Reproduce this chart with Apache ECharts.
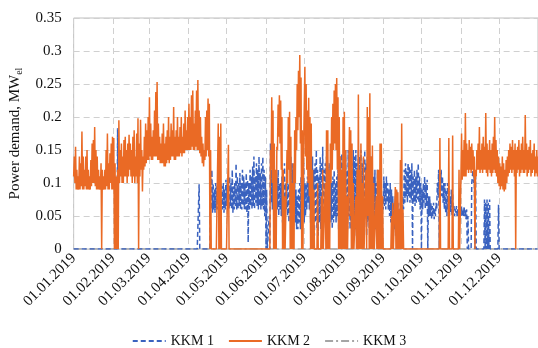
<!DOCTYPE html>
<html>
<head>
<meta charset="utf-8">
<script src="https://cdn.jsdelivr.net/npm/echarts@6/dist/echarts.min.js"></script>
<style>html,body{margin:0;padding:0;background:#fff}#c{width:538px;height:348px}</style>
</head>
<body>
<div id="c"></div>
<script>
// Daily low / high values (MW_el), one entry per day of 2019
const kkm2Low = [
// Jan
0.11,0.10,0.09,0.09,0.09,0.09,0.095,0.09,0.09,0.095,0.09,0.09,0.09,0.09,0.095,0.10,0.10,0.095,0.09,0.09,0.09,0.09,0,0.09,0.09,0.09,0.095,0.09,0.09,0.10,0.09,
// Feb
0.09,0,0,0,0,0.10,0.11,0.10,0.10,0.11,0.11,0.10,0.11,0.12,0.11,0.10,0.11,0.10,0.11,0.10,0,0.11,0.12,0.087,0.12,0.125,0.13,0.135,
// Mar
0.135,0.14,0.135,0.135,0.14,0.14,0.14,0.135,0.135,0.13,0.13,0.13,0.125,0.125,0.13,0.135,0.13,0.135,0.14,0.14,0.135,0.135,0.14,0.14,0.14,0.145,0.14,0.145,0.145,0.15,0.15,
// Apr
0.15,0.15,0.15,0.155,0.15,0.15,0.155,0.15,0.15,0.145,0.14,0.13,0.125,0.135,0.14,0.15,0.14,0,0,0,0,0,0,0,0,0,0,0,0,0,
// May
0,0,0,0,0,0,0,0,0,0,0,0,0,0,0,0,0,0,0,0,0,0,0,0,0,0,0,0,0,0,0,
// Jun
0,0,0,0,0.12,0.1,0,0,0,0.15,0.17,0.16,0.12,0,0,0,0,0.1,0.12,0,0,0,0,0.1,0.15,0.18,0.2,0.16,0,0,
// Jul
0.15,0.14,0.12,0.1,0.08,0,0,0,0,0,0,0,0,0,0,0,0,0,0,0,0,0.1,0.12,0.15,0.16,0.15,0.12,0,0,0,0,
// Aug
0,0,0,0,0,0.05,0,0,0,0,0,0,0,0,0,0,0,0,0,0.05,0,0,0,0,0,0,0,0,0,0,0,
// Sep
0,0,0,0,0,0,0,0,0,0,0,0,0,0,0,0,0,0,0,0,0,0,0,0,0,0,0,0,0,0,
// Oct
0,0,0,0,0,0,0,0,0,0,0,0,0,0,0,0,0,0,0,0,0,0,0,0,0,0,0,0,0,0,0,
// Nov
0.11,0.105,0.11,0.11,0.11,0.12,0.115,0.12,0.115,0.12,0.11,0,0.11,0.12,0.12,0.115,0.12,0.115,0.12,0.12,0.115,0.11,0.12,0.115,0.11,0.115,0.12,0.115,0.11,0.1,
// Dec
0.095,0.09,0.095,0.09,0.087,0.09,0.1,0.11,0.115,0.12,0.115,0.12,0.11,0,0.115,0.12,0.11,0.115,0.12,0.115,0.115,0.12,0.11,0.115,0.12,0.11,0.115,0.12,0.11,0.115,0.11
];
const kkm2High = [
// Jan
0.14,0.155,0.12,0.11,0.14,0.13,0.178,0.14,0.12,0.14,0.15,0.12,0.11,0.135,0.16,0.165,0.185,0.15,0.14,0.12,0.11,0.13,0.12,0.11,0.12,0.15,0.175,0.13,0.145,0.16,0.17,
// Feb
0.168,0.13,0.11,0.12,0.195,0.15,0.16,0.14,0.165,0.17,0.15,0.16,0.173,0.16,0.15,0.17,0.18,0.14,0.175,0.198,0.16,0.196,0.15,0.14,0.17,0.19,0.18,0.2,
// Mar
0.23,0.19,0.17,0.18,0.21,0.238,0.253,0.19,0.17,0.16,0.175,0.19,0.16,0.17,0.18,0.2,0.17,0.19,0.18,0.215,0.17,0.18,0.2,0.17,0.185,0.2,0.17,0.19,0.21,0.18,0.2,
// Apr
0.22,0.2,0.233,0.24,0.19,0.21,0.24,0.256,0.21,0.2,0.17,0.16,0.15,0.2,0.21,0.228,0.22,0.15,0,0,0,0,0,0.19,0.17,0.19,0,0,0,0,
// May
0,0.158,0,0,0,0,0,0,0,0,0,0,0,0,0,0,0,0,0,0,0,0,0,0,0,0,0,0,0,0,0,
// Jun
0,0,0,0.15,0.23,0.21,0.16,0.12,0.155,0.219,0.233,0.225,0.2,0.12,0.08,0,0.15,0.2,0.208,0.17,0.1,0.13,0.18,0.2,0.25,0.27,0.294,0.26,0.18,0.15,
// Jul
0.276,0.25,0.21,0.229,0.2,0.19,0.12,0.09,0,0,0.1,0,0,0.08,0.12,0,0.1,0.18,0.18,0.12,0.16,0.2,0.22,0.24,0.25,0.259,0.23,0.2,0.14,0.12,0.2,
// Aug
0.208,0.15,0.08,0,0.185,0.18,0.16,0.1,0,0.08,0.12,0.234,0.12,0.16,0.1,0.14,0,0.12,0.215,0.2,0.236,0.14,0.157,0.1,0,0.08,0.12,0.12,0.16,0.16,0.08,
// Sep
0,0,0,0,0,0,0.05,0.07,0,0.094,0.09,0.086,0.06,0.135,0.19,0.06,0,0,0,0,0,0,0,0,0,0,0,0,0,0,
// Oct
0,0,0,0,0,0,0,0,0,0,0,0,0,0,0.168,0,0,0,0,0,0,0.168,0,0,0.172,0,0,0,0,0.12,0,
// Nov
0.175,0.15,0.165,0.206,0.16,0.15,0.165,0.155,0.16,0.15,0.14,0.12,0.15,0.16,0.185,0.15,0.16,0.17,0.155,0.206,0.16,0.15,0.165,0.15,0.16,0.17,0.2,0.165,0.15,0.14,
// Dec
0.13,0.125,0.14,0.13,0.12,0.135,0.14,0.15,0.16,0.155,0.165,0.15,0.16,0.15,0.155,0.165,0.15,0.16,0.17,0.15,0.203,0.16,0.15,0.155,0.165,0.145,0.15,0.16,0.14,0.15,0.14
];
const kkm1Low = [
// Jan
0,0,0,0,0,0,0,0,0,0,0,0,0,0,0,0,0,0,0,0,0,0,0,0,0,0,0,0,0,0,0,
// Feb
0,0,0,0,0,0,0,0,0,0,0,0,0,0,0,0,0,0,0,0,0,0,0,0,0,0,0,0,
// Mar
0,0,0,0,0,0,0,0,0,0,0,0,0,0,0,0,0,0,0,0,0,0,0,0,0,0,0,0,0,0,0,
// Apr
0,0,0,0,0,0,0,0,0,0,0,0,0,0,0,0,0,0,0.06,0.055,0.06,0.055,0.06,0.06,0.055,0.06,0.065,0.06,0.055,0.06,
// May
0.065,0.06,0.06,0.065,0.06,0.055,0.06,0.065,0.06,0.06,0.065,0.06,0.06,0.065,0.06,0.06,0.055,0.01,0.06,0.065,0.06,0.065,0.06,0.07,0.065,0.06,0.065,0.06,0.065,0.06,0.05,
// Jun
0,0,0,0,0.07,0.06,0.07,0.06,0.05,0.06,0.05,0.06,0.05,0.04,0.05,0.04,0.06,0.05,0.04,0.06,0.08,0.07,0.05,0.04,0.03,0.03,0.04,0.03,0.05,0.06,
// Jul
0.04,0.05,0.06,0.07,0.06,0.04,0.05,0.03,0.02,0.04,0.03,0.02,0.04,0.03,0.05,0.03,0.04,0.02,0.04,0.03,0.05,0.04,0.03,0.04,0.05,0.04,0.05,0.03,0.04,0.05,0.03,
// Aug
0.05,0.02,0.04,0.03,0.05,0.03,0.04,0.02,0.04,0.03,0.02,0.04,0.03,0.05,0.02,0.04,0.03,0.05,0.02,0.04,0.03,0.05,0.03,0.02,0.04,0.03,0.02,0.04,0.03,0.05,0.04,
// Sep
0.06,0.065,0.06,0.07,0.06,0.05,0.04,0.03,0.02,0.03,0.02,0.03,0.02,0.03,0.02,0.03,0.06,0.07,0.08,0.07,0.08,0.07,0.075,0,0.07,0.065,0.07,0.075,0.07,0.06,
// Oct
0,0.06,0.07,0.06,0.065,0,0.05,0.05,0.045,0.05,0.045,0.05,0.06,0.08,0,0.09,0.08,0.07,0.06,0.055,0.05,0.06,0.05,0.055,0.05,0.055,0.05,0.055,0.05,0.05,0.05,
// Nov
0.05,0.05,0.05,0.05,0.045,0,0,0,0,0.1,0.1,0,0,0,0,0,0,0,0,0,0,0,0,0,0,0,0,0,0,0,
// Dec
0,0,0,0,0,0,0,0,0,0,0,0,0,0,0,0,0,0,0,0,0,0,0,0,0,0,0,0,0,0,0
];
const kkm1High = [
// Jan
0,0,0,0,0,0,0,0,0,0,0,0,0,0,0,0,0,0,0,0,0,0,0,0,0,0,0,0,0,0,0,
// Feb
0,0,0,0.183,0,0,0,0,0,0,0,0,0,0,0,0,0,0,0,0,0,0,0,0,0,0,0,0,
// Mar
0,0,0,0,0,0,0,0,0,0,0,0,0,0,0,0,0,0,0,0,0,0,0,0,0,0,0,0,0,0,0,
// Apr
0,0,0,0,0,0,0,0,0.098,0,0,0,0,0,0,0,0,0.12,0.12,0.1,0.09,0.1,0.095,0.1,0.09,0.1,0.095,0.1,0.09,0.105,
// May
0.1,0.09,0.11,0.1,0.12,0.095,0.1,0.13,0.11,0.1,0.115,0.1,0.12,0.11,0.1,0.115,0.105,0.1,0.12,0.11,0.125,0.14,0.11,0.13,0.12,0.14,0.115,0.13,0.14,0.12,0.11,
// Jun
0.09,0,0.05,0.16,0.12,0.11,0.12,0.1,0.11,0.12,0.1,0.1,0.11,0.12,0.13,0.1,0.12,0.1,0.09,0.14,0.13,0.12,0.1,0.09,0.08,0.09,0.1,0.11,0.12,0.13,
// Jul
0.1,0.1,0.11,0.15,0.12,0.13,0.14,0.12,0.13,0.15,0.12,0.11,0.14,0.13,0.155,0.12,0.13,0.14,0.11,0.13,0.12,0.1,0.11,0.12,0.1,0.11,0.12,0.13,0.14,0.145,0.13,
// Aug
0.14,0.15,0.12,0.15,0.14,0.15,0.13,0.15,0.14,0.15,0.13,0.15,0.14,0.15,0.13,0.14,0.15,0.13,0.14,0.15,0.12,0.14,0.12,0.11,0.12,0.1,0.12,0.11,0.1,0.09,0.08,
// Sep
0.11,0.1,0.11,0.1,0.09,0.1,0.09,0.08,0.07,0.08,0.09,0.07,0.06,0.07,0.05,0.08,0.12,0.13,0.12,0.13,0.125,0.12,0.13,0.11,0.12,0.11,0.12,0.13,0.11,0.1,
// Oct
0.09,0.1,0.11,0.1,0.105,0.08,0.08,0.07,0.065,0.07,0.06,0.07,0.1,0.12,0.115,0.12,0.11,0.1,0.1,0.09,0.1,0.095,0.08,0.09,0.085,0.065,0.06,0.065,0.06,0.065,0.06,
// Nov
0.065,0.06,0.065,0.06,0.06,0.05,0,0,0.1,0.12,0.115,0.11,0,0,0,0,0,0,0.075,0.07,0.075,0.07,0.075,0,0,0,0,0,0,0.067,
// Dec
0,0,0,0,0,0,0,0,0,0,0,0,0,0,0,0,0,0,0,0,0,0,0,0,0,0,0,0,0,0,0
];
// KKM 3: zero at start and end of the year
const kkm3Values = [0, 0];
const yTicks = [0, 0.05, 0.1, 0.15, 0.2, 0.25, 0.3, 0.35];

function pad(n){ return n < 10 ? '0' + n : '' + n; }
const start = Date.UTC(2019, 0, 1);
const cats = [];
for (let d = 0; d < kkm2Low.length; d++) {
  const dt = new Date(start + d * 86400000);
  const s = pad(dt.getUTCDate()) + '.' + pad(dt.getUTCMonth() + 1) + '.' + dt.getUTCFullYear();
  cats.push(s + ' 00:00', s + ' 12:00');
}
function zig(lo, hi){ const out = []; for (let i = 0; i < lo.length; i++) { out.push(lo[i], hi[i]); } return out; }
const kkm1 = zig(kkm1Low, kkm1High);
const kkm2 = zig(kkm2Low, kkm2High);
const kkm3 = [[0, kkm3Values[0]], [cats.length - 1, kkm3Values[1]]];

const isMonthStart = (idx) => { const v = cats[idx]; return v.slice(0, 3) === '01.' && v.slice(11) === '00:00'; };
const font = "'Liberation Serif','Times New Roman',serif";

const chart = echarts.init(document.getElementById('c'), null, {renderer: 'canvas'});
chart.setOption({
  animation: false,
  grid: {left: 66, right: -1, top: 18, bottom: 99, show: true, borderColor: '#BFBFBF', borderWidth: 1},
  xAxis: {
    type: 'category', data: cats, boundaryGap: false,
    axisLine: {show: false}, axisTick: {show: false},
    axisLabel: {interval: (i) => isMonthStart(i), rotate: 45, formatter: (v) => v.slice(0, 10),
      fontFamily: font, fontSize: 15, color: '#111', margin: 7},
    splitLine: {show: true, interval: (i) => isMonthStart(i), lineStyle: {color: '#D0D0D0', type: [6, 4], width: 1}}
  },
  yAxis: {
    type: 'value', min: 0, max: 0.35, interval: 0.05,
    axisLine: {show: false}, axisTick: {show: false},
    axisLabel: {fontFamily: font, fontSize: 15, color: '#111', margin: 12,
      formatter: (v) => { const t = yTicks.find(x => Math.abs(x - v) < 1e-9); return String(t !== undefined ? t : v); }},
    splitLine: {lineStyle: {color: '#D0D0D0', type: [6, 4], width: 1}},
    name: '{a|Power demand, MW}{b|el}', nameLocation: 'middle', nameGap: 41, nameRotate: 90,
    nameTextStyle: {rich: {
      a: {fontFamily: font, fontSize: 15, color: '#111'},
      b: {fontFamily: font, fontSize: 10, color: '#111', padding: [8, 0, 0, 0]}
    }}
  },
  legend: {
    left: 'center', top: 334, padding: 0, itemWidth: 33, itemHeight: 14, itemGap: 14,
    itemStyle: {opacity: 0},
    textStyle: {fontFamily: font, fontSize: 14, color: '#111'},
    data: ['KKM 1', 'KKM 2', 'KKM 3']
  },
  series: [
    {name: 'KKM 3', type: 'line', data: kkm3, symbol: 'none', z: 1,
      lineStyle: {color: '#A5A5A5', width: 1.5, type: [8, 3, 2, 3]}, itemStyle: {color: '#A5A5A5'}},
    {name: 'KKM 1', type: 'line', data: kkm1, symbol: 'none', z: 2,
      lineStyle: {color: '#3A62BF', width: 1.5, type: [5, 3]}, itemStyle: {color: '#3A62BF'}},
    {name: 'KKM 2', type: 'line', data: kkm2, symbol: 'none', z: 3,
      lineStyle: {color: '#EA6A25', width: 1.5}, itemStyle: {color: '#EA6A25'}}
  ]
});
</script>
</body>
</html>
